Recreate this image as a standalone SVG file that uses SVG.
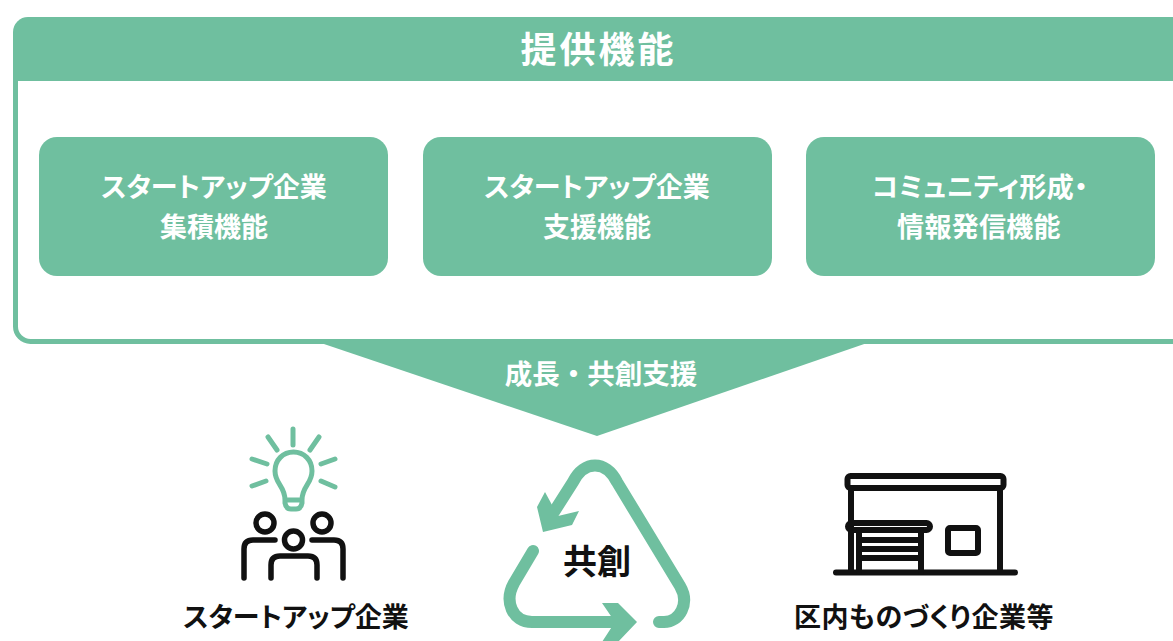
<svg xmlns="http://www.w3.org/2000/svg" width="1173" height="641" viewBox="0 0 1173 641">
<style>
text{font-family:"Noto Sans CJK JP","Noto Sans CJK SC",sans-serif;font-weight:700;text-anchor:middle;font-feature-settings:"palt"}
.w{fill:#fff}.k{fill:#111}
.box{fill:#6fbf9f}
.g{fill:none;stroke:#6fbf9f;stroke-linecap:round;stroke-linejoin:round}
.b{fill:none;stroke:#111;stroke-linecap:round;stroke-linejoin:round}
.l{font-size:27px}
</style>
<rect width="1173" height="641" fill="#fff"/>
<g id="frame">
<path class="box" d="M318 342L597 436L870 342Z"/>
<rect x="15.500" y="30" width="1180" height="311.500" rx="15" fill="#fff" stroke="#6fbf9f" stroke-width="5"/>
<path class="box" d="M13 81V32A15 15 0 0 1 28 17H1173V81Z"/>
<text class="w" x="598.500" y="63" style="font-size:36px;letter-spacing:3px">提供機能</text>
</g>
<g id="node-1"><rect class="box" x="39" y="137" width="349" height="139" rx="18"/>
<text class="w l" x="214" y="197">スタートアップ企業</text><text class="w l" x="214" y="237">集積機能</text></g>
<g id="node-2"><rect class="box" x="423" y="137" width="349" height="139" rx="18"/>
<text class="w l" x="597" y="197">スタートアップ企業</text><text class="w l" x="597" y="237">支援機能</text></g>
<g id="node-3"><rect class="box" x="806" y="137" width="349" height="139" rx="18"/>
<text class="w l" x="980" y="197" style="letter-spacing:.4px">コミュニティ形成・</text><text class="w l" x="979" y="237" style="letter-spacing:.3px">情報発信機能</text></g>
<g id="arrow-label"><text class="w" x="601" y="384" style="font-size:27.500px;font-feature-settings:normal">成長・共創支援</text></g>
<g id="startup">
<g class="g" stroke-width="5">
<path d="M293 429V445M268 437L277 450M319 437L310 450M252 459L267 464M335 459L321 464M252 486L266 481M335 487L321 481"/>
<path d="M285 500C285 486 275 484 275 471C275 460 283 452 293.500 452C304 452 312 460 312 471C312 484 302 486 302 500ZM285 500V503Q286 509 291 509H296Q301 509 302 503V500"/>
</g>
<g class="b" stroke-width="5.500">
<circle cx="265" cy="523" r="9"/><circle cx="322" cy="523" r="9"/><circle cx="293.500" cy="540" r="9"/>
<path d="M244 578V549Q244 540 253 540H275M343 578V549Q343 540 334 540H312M271 578V565Q271 556 280 556H308Q317 556 317 565V578"/>
</g>
<text class="k" x="296" y="627" style="font-size:27px">スタートアップ企業</text>
</g>
<g id="cocreation">
<g class="g" stroke-width="12">
<path d="M659 622H664C680 622 690 603 680 586L617 482C606 460 584 460 573 482L552 515"/>
<path d="M533 551L514 583C504 601 512 622 532 622H625"/>
</g>
<path class="box" d="M545 492L537 507L543 532L572 525L579 511L558 516Z"/>
<path class="box" d="M602 603H618L637 622L618 642H602L615 622Z"/>
<text class="k" x="597" y="574" style="font-size:34px">共創</text>
</g>
<g id="company">
<g class="b" stroke-width="6">
<rect x="847.500" y="476" width="156" height="12" rx="3"/>
<path d="M851 488V572M1000 488V572M836 572.500H1015"/>
<rect x="848" y="523" width="82" height="7" rx="3.500"/>
<path d="M859 530V572M921 530V572M859 540H921M859 549H921M859 558H921"/>
<rect x="948" y="528" width="30" height="25" rx="2"/>
</g>
<text class="k" x="924" y="627" style="font-size:27px;letter-spacing:.5px">区内ものづくり企業等</text>
</g>
</svg>
